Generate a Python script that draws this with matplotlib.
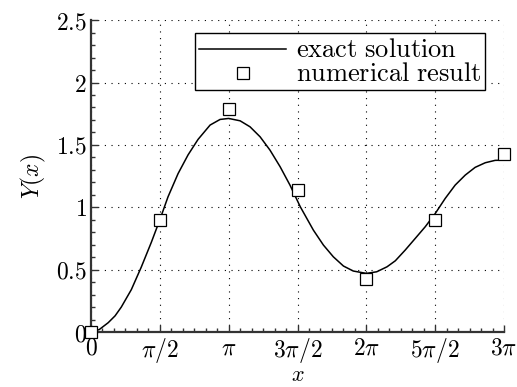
import numpy as np
import matplotlib
matplotlib.use('Agg')
from matplotlib import pyplot as plt
from matplotlib.ticker import MultipleLocator

plt.rcParams['mathtext.fontset'] = 'cm'
plt.rcParams['font.family'] = 'serif'
plt.rcParams['font.serif'] = ['DejaVu Serif']

# exact solution (x in units of pi/2)
exact_x_halfpi = [0.0, 0.12, 0.25, 0.35, 0.44, 0.586, 0.73, 0.877, 1.0, 1.119, 1.265, 1.41,
                  1.555, 1.73, 1.875, 2.0, 2.166, 2.31, 2.456, 2.60, 2.747, 2.89,
                  3.04, 3.23, 3.376, 3.52, 3.667, 3.81, 4.0, 4.15, 4.30, 4.42,
                  4.564, 4.709, 4.855, 5.0, 5.145, 5.29, 5.436, 5.58, 5.727, 5.87, 6.0]
exact_y = [0.0, 0.02, 0.075, 0.13, 0.20, 0.34, 0.52, 0.72, 0.90, 1.084, 1.27, 1.42,
           1.544, 1.659, 1.704, 1.712, 1.693, 1.645, 1.565, 1.458, 1.325, 1.178,
           1.004, 0.817, 0.697, 0.603, 0.529, 0.489, 0.470, 0.483, 0.523, 0.571,
           0.657, 0.75, 0.844, 0.95, 1.071, 1.178, 1.258, 1.32, 1.357, 1.376, 1.378]

# numerical result at multiples of pi/2
num_x_halfpi = [0, 1, 2, 3, 4, 5, 6]
num_y = [0.0, 0.90, 1.79, 1.14, 0.425, 0.90, 1.425]

xtick_labels = ['$0$', r'$\pi/2$', r'$\pi$', r'$3\pi/2$', r'$2\pi$', r'$5\pi/2$', r'$3\pi$']
ytick_labels = ['$0$', '$0.5$', '$1$', '$1.5$', '$2$', '$2.5$']

half_pi = np.pi / 2
exact_x = np.array(exact_x_halfpi) * half_pi
num_x = np.array(num_x_halfpi) * half_pi

fig = plt.figure(figsize=(5.17, 3.87), dpi=100)
ax = fig.add_axes([0.176, 0.142, 0.799, 0.806])

ax.plot(exact_x, exact_y, color='black', lw=1.1, label=r'$\mathrm{exact\ solution}$')
ax.plot(num_x, num_y, ls='none', marker='s', ms=8.5, mfc='white', mec='black',
        mew=0.9, label=r'$\mathrm{numerical\ result}$', clip_on=False, zorder=5)

ax.set_xlim(0, 3 * np.pi)
ax.set_ylim(0, 2.5)
ax.set_xticks(num_x)
ax.set_xticklabels(xtick_labels)
ax.set_yticks([0, 0.5, 1, 1.5, 2, 2.5])
ax.set_yticklabels(ytick_labels)
ax.xaxis.set_minor_locator(MultipleLocator(np.pi / 12))
ax.yaxis.set_minor_locator(MultipleLocator(0.1))

ax.tick_params(which='both', direction='in', labelsize=17, top=False, right=False,
               color='#333333', width=1.0)
ax.tick_params(which='major', length=5)
ax.tick_params(axis='x', which='major', pad=3)
ax.tick_params(axis='y', which='major', pad=3)
ax.tick_params(which='minor', length=3)

for side in ['top', 'right']:
    ax.spines[side].set_visible(False)
for side in ['left', 'bottom']:
    ax.spines[side].set_linewidth(1.6)
    ax.spines[side].set_color('#333333')

ax.grid(True, which='major', ls=(0, (1, 5)), color='black', lw=0.8)

ax.set_xlabel('$x$', fontsize=16)
ax.xaxis.set_label_coords(0.5, -0.102)
ax.set_ylabel('$Y(x)$', fontsize=17, labelpad=6)

leg = ax.legend(loc='upper right', bbox_to_anchor=(0.955, 0.958), fontsize=19,
                frameon=True, fancybox=False, edgecolor='black', framealpha=1,
                borderpad=0.15, labelspacing=-0.04, handlelength=3.3, handletextpad=0.35,
                handleheight=0.4, borderaxespad=0)
leg.get_frame().set_linewidth(1.0)

fig.savefig('out.png', dpi=100, facecolor='white')
